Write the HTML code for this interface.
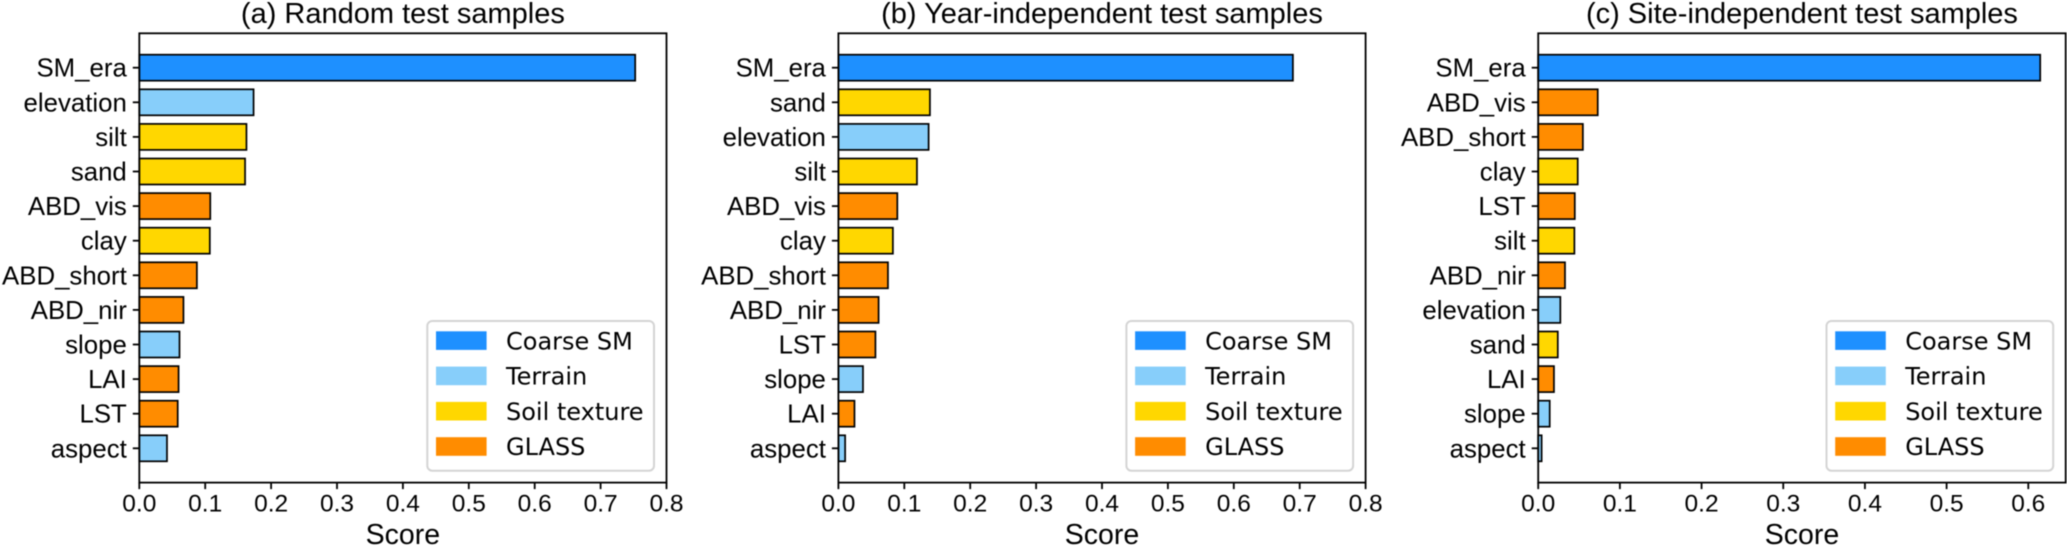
<!DOCTYPE html>
<html lang="en">
<head>
<meta charset="utf-8">
<title>Feature importance scores</title>
<style>
  html, body { margin: 0; padding: 0; background: #fff; }
  body { width: 2067px; height: 547px; overflow: hidden; }
  svg { display: block; filter: blur(0.4px); }
  text { fill: #000; font-family: "Liberation Sans", Arial, sans-serif; }
  .legend-text { font-family: "DejaVu Sans", sans-serif; font-size: 24px; }
</style>
</head>
<body>
<svg id="chart" xmlns="http://www.w3.org/2000/svg" width="2067" height="547" viewBox="0 0 2067 547"></svg>
<script>
const categoriesA = ["SM_era","elevation","silt","sand","ABD_vis","clay","ABD_short","ABD_nir","slope","LAI","LST","aspect"];
const valuesA = [0.7525,0.1734,0.1626,0.1605,0.1077,0.1070,0.0874,0.0670,0.0610,0.0596,0.0583,0.0420];
const groupsA = ["Coarse SM","Terrain","Soil texture","Soil texture","GLASS","Soil texture","GLASS","GLASS","Terrain","GLASS","GLASS","Terrain"];
const ticksA = ["0.0","0.1","0.2","0.3","0.4","0.5","0.6","0.7","0.8"];

const categoriesB = ["SM_era","sand","elevation","silt","ABD_vis","clay","ABD_short","ABD_nir","LST","slope","LAI","aspect"];
const valuesB = [0.6897,0.1389,0.1369,0.1192,0.0894,0.0827,0.0752,0.0610,0.0562,0.0373,0.0244,0.0102];
const groupsB = ["Coarse SM","Soil texture","Terrain","Soil texture","GLASS","Soil texture","GLASS","GLASS","GLASS","Terrain","GLASS","Terrain"];
const ticksB = ["0.0","0.1","0.2","0.3","0.4","0.5","0.6","0.7","0.8"];

const categoriesC = ["SM_era","ABD_vis","ABD_short","clay","LST","silt","ABD_nir","elevation","sand","LAI","slope","aspect"];
const valuesC = [0.6146,0.0729,0.0547,0.0484,0.0448,0.0443,0.0328,0.0271,0.0240,0.0193,0.0141,0.0042];
const groupsC = ["Coarse SM","GLASS","GLASS","Soil texture","GLASS","Soil texture","GLASS","Terrain","Soil texture","GLASS","Terrain","Terrain"];
const ticksC = ["0.0","0.1","0.2","0.3","0.4","0.5","0.6"];

const legendLabels = ["Coarse SM","Terrain","Soil texture","GLASS"];
const legendColors = ["#1E90FF","#87CEFA","#FFD700","#FF8C00"];

const NS = "http://www.w3.org/2000/svg";
const svg = document.getElementById("chart");

function make(parent, tag, attrs, content) {
  const el = document.createElementNS(NS, tag);
  for (const k in attrs) el.setAttribute(k, attrs[k]);
  if (content !== undefined) el.textContent = content;
  parent.appendChild(el);
  return el;
}

function colorOf(group) {
  return legendColors[legendLabels.indexOf(group)];
}

function drawPanel(cfg) {
  const top = 33.3, bottom = 482.6, firstY = 67.7, step = 34.6, barH = 26;
  const xScale = v => cfg.left + (v / cfg.xMax) * (cfg.right - cfg.left);
  const yScale = i => firstY + i * step;

  const g = make(svg, "g", {});
  
  

  const title = make(g, "text", {
    x: (cfg.left + cfg.right) / 2, y: 23, "text-anchor": "middle", "font-size": 29
  }, cfg.title);
  
  

  cfg.values.forEach((v, i) => {
    const bar = make(g, "rect", {
      x: xScale(0), y: yScale(i) - barH / 2,
      width: xScale(v) - xScale(0), height: barH,
      fill: colorOf(cfg.groups[i]), stroke: "#000", "stroke-width": 1.7
    });
    
    

    const tick = make(g, "line", {
      x1: cfg.left - 6.5, x2: cfg.left, y1: yScale(i), y2: yScale(i),
      stroke: "#000", "stroke-width": 1.8
    });
    
    

    const label = make(g, "text", {
      x: cfg.left - 12.5, y: yScale(i) + 9, "text-anchor": "end", "font-size": 25.8
    }, cfg.categories[i]);
    
    
  });

  const frame = make(g, "rect", {
    x: cfg.left, y: top, width: cfg.right - cfg.left, height: bottom - top,
    fill: "none", stroke: "#000", "stroke-width": 1.8
  });
  
  

  cfg.ticks.forEach(t => {
    const px = xScale(parseFloat(t));
    const tick = make(g, "line", {
      x1: px, x2: px, y1: bottom, y2: bottom + 6.5,
      stroke: "#000", "stroke-width": 1.8
    });
    
    

    const label = make(g, "text", {
      x: px, y: 511.7, "text-anchor": "middle", "font-size": 24.5
    }, t);
    
    
  });

  const xTitle = make(g, "text", {
    x: (cfg.left + cfg.right) / 2, y: 544, "text-anchor": "middle", "font-size": 28.5
  }, "Score");
  
  

  const legend = make(g, "g", {});
  
  

  const legendX = cfg.right - 239.2;
  make(legend, "rect", {
    x: legendX, y: 321, width: 226.7, height: 149.7, rx: 5, ry: 5,
    fill: "#fff", stroke: "#d4d4d4", "stroke-width": 2
  });

  legendLabels.forEach((name, i) => {
    const entryY = 331.3 + i * 35.3;
    const entry = make(legend, "g", {});
    
    
    make(entry, "rect", {
      x: legendX + 8.7, y: entryY, width: 50.6, height: 18.6, fill: legendColors[i]
    });
    make(entry, "text", {
      x: legendX + 78.7, y: entryY + 18, "class": "legend-text"
    }, name);
  });
}

drawPanel({ name: "panel-a-random", title: "(a) Random test samples", left: 139.3, right: 666.5, xMax: 0.8,
  categories: categoriesA, values: valuesA, groups: groupsA, ticks: ticksA });
drawPanel({ name: "panel-b-year-independent", title: "(b) Year-independent test samples", left: 838.4, right: 1365.6, xMax: 0.8,
  categories: categoriesB, values: valuesB, groups: groupsB, ticks: ticksB });
drawPanel({ name: "panel-c-site-independent", title: "(c) Site-independent test samples", left: 1538.2, right: 2065.7, xMax: 0.6458,
  categories: categoriesC, values: valuesC, groups: groupsC, ticks: ticksC });
</script>
</body>
</html>
